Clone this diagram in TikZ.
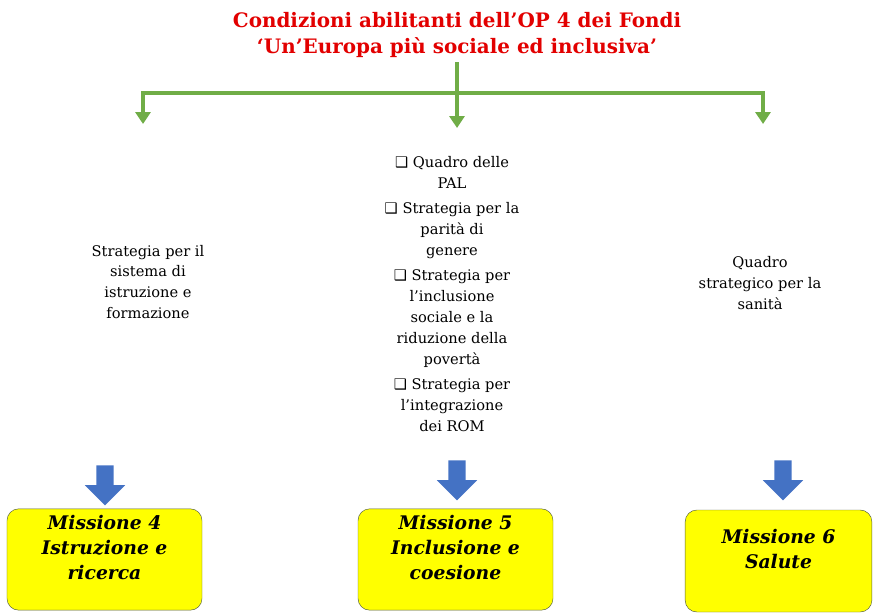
\documentclass[tikz,border=0pt]{standalone}
\usepackage{fontspec}
\setmainfont{DejaVu Serif}
\newfontfamily\simboli{DejaVu Sans}
\usepackage{tikz}
\usetikzlibrary{arrows,arrows.meta,shapes}
\usetikzlibrary{positioning}
\definecolor{rosso}{RGB}{226,0,0}
\definecolor{verde}{RGB}{112,173,71}
\definecolor{blu}{RGB}{68,114,196}
\definecolor{giallo}{RGB}{255,255,0}
\definecolor{bordo}{RGB}{85,95,65}
\newcommand{\quadretto}{{\simboli\char"2751}\ }
\tikzstyle{titolo}=[text=rosso,font=\bfseries\fontsize{17}{22.2}\selectfont,align=center,inner sep=0,outer sep=4pt]
\tikzstyle{ramo}=[draw=verde,line width=3.4pt,>={Triangle[length=0.36cm,width=0.45cm]}]
\tikzstyle{condiz}=[align=center,inner sep=0,font=\fontsize{12.5}{17.9}\selectfont]
\tikzstyle{freccia}=[single arrow,fill=blu,draw=none,rotate=-90,inner xsep=0,inner ysep=0.255cm,
                minimum height=1.2cm,single arrow head extend=0.345cm]
\tikzstyle{missione}=[rectangle,rounded corners=10pt,draw=bordo,fill=giallo,thin,align=center,
                font=\bfseries\itshape\fontsize{16}{21.3}\selectfont,minimum height=3.04cm]

\begin{document}
\begin{tikzpicture}[x=0.03cm,y=-0.03cm]
\useasboundingbox (0,0) rectangle (877,615);
% titolo
\node[titolo] (tit) at (457,35) {Condizioni abilitanti dell’OP 4 dei Fondi\\‘Un'Europa più sociale ed inclusiva’};
\coordinate (bivio) at (457,93);
\coordinate (punta4) at (143,124);
\coordinate (punta5) at (457,128);
\coordinate (punta6) at (763,124);
\draw[ramo,->] (tit.south) -- (punta5);
\draw[ramo,<->] (punta4) |- (bivio) -| (punta6);
% condizioni
\node[condiz] (cond4) at (148,282) {Strategia per il\\sistema di\\istruzione e\\formazione};
\node[condiz] (cond5) at (452,294) {\quadretto Quadro delle\\PAL\\[3.4pt]
  \quadretto Strategia per la\\parità di\\genere\\[3.4pt]
  \quadretto Strategia per\\l’inclusione\\sociale e la\\riduzione della\\povertà\\[3.4pt]
  \quadretto Strategia per\\l’integrazione\\dei ROM};
\node[condiz] (cond6) at (760,283) {Quadro\\strategico per la\\sanità};
% frecce blu
\node[freccia] (f4) at (105,481) {};
\node[freccia] (f5) at (457,476) {};
\node[freccia] (f6) at (783,476) {};
% missioni
\node[missione,minimum width=5.85cm] (mis4) at (104.5,559.5) {Missione 4\\Istruzione e\\ricerca\\~};
\node[missione,minimum width=5.85cm] (mis5) at (455.5,559.5) {Missione 5\\Inclusione e\\coesione\\~};
\node[missione,minimum width=5.6cm,minimum height=3.06cm] (mis6) at (778.5,561) {Missione 6\\Salute\\~};
\end{tikzpicture}
\end{document}
